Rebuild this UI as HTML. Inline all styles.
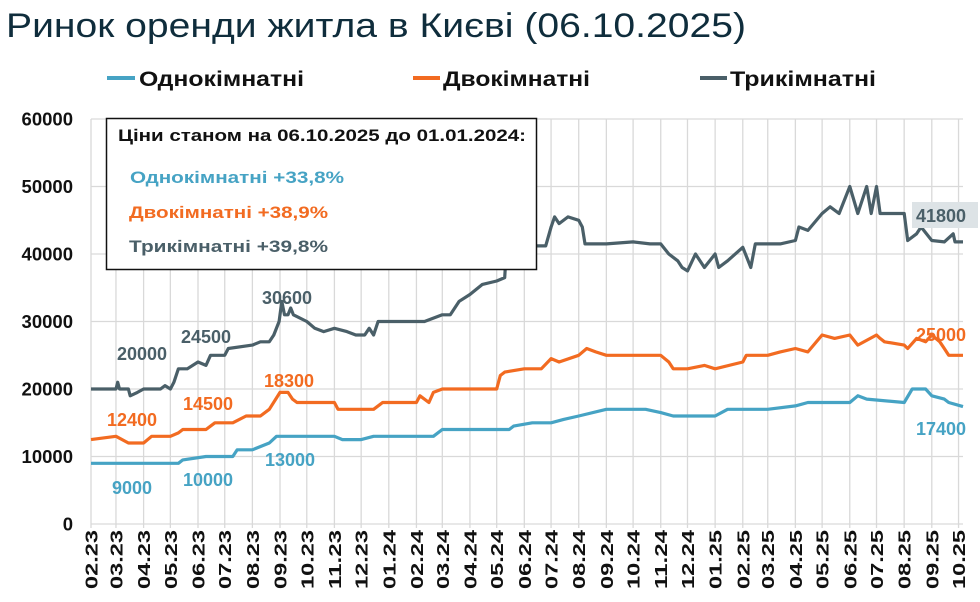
<!DOCTYPE html>
<html><head><meta charset="utf-8"><style>
html,body{margin:0;padding:0;background:#fff;}
svg{display:block;font-family:"Liberation Sans",sans-serif;}
</style></head><body>
<svg id="chart" width="980" height="602" viewBox="0 0 980 602">
<text x="6" y="37" font-size="34" fill="#0f2d3c" textLength="740" lengthAdjust="spacingAndGlyphs">Ринок оренди житла в Києві (06.10.2025)</text>
<g>
 <g><line x1="107" y1="78" x2="135" y2="78" stroke="#46a3c4" stroke-width="4"/><text x="139" y="86" font-size="21" font-weight="bold" fill="#111" textLength="165" lengthAdjust="spacingAndGlyphs">Однокімнатні</text></g>
 <g><line x1="413" y1="78" x2="440" y2="78" stroke="#f26b21" stroke-width="4"/><text x="443" y="86" font-size="21" font-weight="bold" fill="#111" textLength="147" lengthAdjust="spacingAndGlyphs">Двокімнатні</text></g>
 <g><line x1="700" y1="78" x2="727" y2="78" stroke="#4a5f68" stroke-width="4"/><text x="730" y="86" font-size="21" font-weight="bold" fill="#111" textLength="146" lengthAdjust="spacingAndGlyphs">Трикімнатні</text></g>
</g>
<g id="grid"></g>
<g id="yaxis"></g>
<g id="xaxis"></g>
<g id="series"></g>
<g>
 <rect x="106.5" y="118.5" width="430" height="151" fill="#fff" stroke="#111" stroke-width="1.5"/>
 <text x="118" y="141" font-size="16.5" font-weight="bold" fill="#111" textLength="408" lengthAdjust="spacingAndGlyphs">Ціни станом на 06.10.2025 до 01.01.2024:</text>
 <text x="130" y="183" font-size="17" font-weight="bold" fill="#46a3c4" textLength="214" lengthAdjust="spacingAndGlyphs">Однокімнатні +33,8%</text>
 <text x="129" y="218" font-size="17" font-weight="bold" fill="#f26b21" textLength="199" lengthAdjust="spacingAndGlyphs">Двокімнатні +38,9%</text>
 <text x="129" y="252" font-size="17" font-weight="bold" fill="#4a5f68" textLength="199" lengthAdjust="spacingAndGlyphs">Трикімнатні +39,8%</text>
</g>
<g id="labels"></g>
</svg>
<script>
const monthTicks=["02.23","03.23","04.23","05.23","06.23","07.23","08.23","09.23","10.23","11.23","12.23","01.24","02.24","03.24","04.24","05.24","06.24","07.24","08.24","09.24","10.24","11.24","12.24","01.25","02.25","03.25","04.25","05.25","06.25","07.25","08.25","09.25","10.25"];
const yTicks=[0,10000,20000,30000,40000,50000,60000];
const threeDates=["2023-02-01","2023-03-01","2023-03-03","2023-03-05","2023-03-15","2023-03-17","2023-03-25","2023-04-01","2023-04-20","2023-04-25","2023-05-01","2023-05-05","2023-05-10","2023-05-20","2023-06-01","2023-06-10","2023-06-15","2023-07-01","2023-07-05","2023-08-01","2023-08-10","2023-08-20","2023-08-25","2023-08-31","2023-09-03","2023-09-06","2023-09-10","2023-09-13","2023-09-16","2023-10-01","2023-10-10","2023-10-20","2023-11-01","2023-11-15","2023-11-25","2023-12-05","2023-12-10","2023-12-15","2023-12-20","2024-01-01","2024-02-10","2024-03-01","2024-03-10","2024-03-20","2024-04-01","2024-04-15","2024-05-01","2024-05-10","2024-05-12","2024-05-18","2024-05-20","2024-06-01","2024-06-25","2024-07-01","2024-07-05","2024-07-10","2024-07-20","2024-08-01","2024-08-05","2024-08-08","2024-09-01","2024-10-01","2024-10-20","2024-11-01","2024-11-10","2024-11-20","2024-11-25","2024-12-01","2024-12-10","2024-12-20","2025-01-01","2025-01-05","2025-01-15","2025-02-01","2025-02-10","2025-02-15","2025-03-01","2025-03-15","2025-04-01","2025-04-05","2025-04-15","2025-05-01","2025-05-10","2025-05-20","2025-06-01","2025-06-10","2025-06-20","2025-06-25","2025-07-01","2025-07-05","2025-08-01","2025-08-05","2025-08-15","2025-08-20","2025-09-01","2025-09-15","2025-09-25","2025-09-27","2025-10-06"];
const threeVals=[20000,20000,21000,20000,20000,19000,19500,20000,20000,20500,20000,21000,23000,23000,24000,23500,25000,25000,26000,26500,27000,27000,28000,30000,33000,31000,31000,32000,31000,30000,29000,28500,29000,28500,28000,28000,29000,28000,30000,30000,30000,31000,31000,33000,34000,35500,36000,36500,41000,42000,41500,41200,41200,44000,45500,44500,45500,45000,44000,41500,41500,41800,41500,41500,40000,39000,38000,37500,40000,38000,40000,38000,39000,41000,38000,41500,41500,41500,42000,44000,43500,46000,47000,46000,50000,46000,50000,46000,50000,46000,46000,42000,43000,44000,42000,41800,43000,41800,41800];
const twoDates=["2023-02-01","2023-03-01","2023-03-15","2023-04-01","2023-04-10","2023-05-01","2023-05-10","2023-05-15","2023-06-10","2023-06-20","2023-07-10","2023-07-25","2023-08-10","2023-08-20","2023-09-01","2023-09-10","2023-09-15","2023-09-20","2023-11-01","2023-11-05","2023-12-15","2023-12-25","2024-02-01","2024-02-05","2024-02-15","2024-02-20","2024-03-01","2024-05-01","2024-05-05","2024-05-10","2024-06-01","2024-06-20","2024-07-01","2024-07-10","2024-08-01","2024-08-10","2024-08-20","2024-09-01","2024-11-01","2024-11-10","2024-11-15","2024-12-01","2024-12-20","2025-01-01","2025-02-01","2025-02-05","2025-03-01","2025-03-15","2025-04-01","2025-04-15","2025-05-01","2025-05-15","2025-06-01","2025-06-10","2025-07-01","2025-07-05","2025-07-10","2025-08-01","2025-08-05","2025-08-15","2025-08-25","2025-09-01","2025-09-10","2025-09-15","2025-09-20","2025-10-06"];
const twoVals=[12500,13000,12000,12000,13000,13000,13500,14000,14000,15000,15000,16000,16000,17000,19500,19500,18500,18000,18000,17000,17000,18000,18000,19000,18000,19500,20000,20000,22000,22500,23000,23000,24500,24000,25000,26000,25500,25000,25000,24000,23000,23000,23500,23000,24000,25000,25000,25500,26000,25500,28000,27500,28000,26500,28000,27500,27000,26500,26000,27500,27000,28000,27000,26000,25000,25000];
const oneDates=["2023-02-01","2023-05-10","2023-05-15","2023-06-10","2023-07-10","2023-07-15","2023-08-01","2023-08-20","2023-08-28","2023-11-01","2023-11-10","2023-12-01","2023-12-15","2024-02-20","2024-03-01","2024-05-15","2024-05-20","2024-06-10","2024-07-01","2024-07-15","2024-08-01","2024-09-01","2024-10-15","2024-11-01","2024-11-15","2025-01-01","2025-01-15","2025-03-01","2025-04-01","2025-04-15","2025-06-01","2025-06-10","2025-06-20","2025-08-01","2025-08-10","2025-08-25","2025-09-01","2025-09-15","2025-09-20","2025-10-06"];
const oneVals=[9000,9000,9500,10000,10000,11000,11000,12000,13000,13000,12500,12500,13000,13000,14000,14000,14500,15000,15000,15500,16000,17000,17000,16500,16000,16000,17000,17000,17500,18000,18000,19000,18500,18000,20000,20000,19000,18500,18000,17400];
const labelTexts=["20000","24500","30600","12400","14500","18300","9000","10000","13000","41800","25000","17400"];

const NS="http://www.w3.org/2000/svg";
const X0=91,X1=963,Y0=524,Y1=119;
const D0=Date.UTC(2023,1,1),D1=Date.UTC(2025,9,6);
function xOfDate(s){const p=s.split("-");const t=Date.UTC(+p[0],+p[1]-1,+p[2]);return X0+(t-D0)/(D1-D0)*(X1-X0);}
function xOfTick(lbl){const m=+lbl.slice(0,2),y=2000+ +lbl.slice(3);return xOfDate(y+"-"+String(m).padStart(2,"0")+"-01");}
function yOf(v){return Y0-(v/60000)*(Y0-Y1);}
function mk(tag,attrs,parent){const e=document.createElementNS(NS,tag);for(const k in attrs)e.setAttribute(k,attrs[k]);parent.appendChild(e);return e;}
const grid=document.getElementById("grid"),ya=document.getElementById("yaxis"),xa=document.getElementById("xaxis"),ser=document.getElementById("series"),lab=document.getElementById("labels");
yTicks.forEach(v=>{
 const l=mk("line",{x1:X0,x2:X1,y1:yOf(v),y2:yOf(v),stroke:"#d9d9d9","stroke-width":1.3},grid);
 
 
 const t=mk("text",{x:73,y:yOf(v)+6.5,"text-anchor":"end","font-size":18.5,"font-weight":"bold",fill:"#111"},ya);
 t.textContent=v;
 
 
});
monthTicks.forEach(m=>{
 const x=xOfTick(m);
 const l=mk("line",{x1:x,x2:x,y1:Y1,y2:Y0+4,stroke:"#d9d9d9","stroke-width":1.3},grid);
 
 
 const t=mk("text",{x:0,y:0,"text-anchor":"end","font-size":17.5,"font-weight":"bold",fill:"#111",textLength:59,lengthAdjust:"spacingAndGlyphs",transform:`translate(${x+6.5},530) rotate(-90)`},xa);
 t.textContent=m;
 
 
});
function drawSeries(dates,vals,color,name){
 const d=dates.map((s,i)=>(i?"L":"M")+xOfDate(s).toFixed(1)+","+yOf(vals[i]).toFixed(1)).join("");
 const p=mk("path",{d:d,fill:"none",stroke:color,"stroke-width":3.2,"stroke-linejoin":"round"},ser);
 
 
}
drawSeries(oneDates,oneVals,"#46a3c4","one-room-line");
drawSeries(twoDates,twoVals,"#f26b21","two-room-line");
drawSeries(threeDates,threeVals,"#4a5f68","three-room-line");
const labelPos=[[117,360,"#4a5f68"],[181,343,"#4a5f68"],[262,304,"#4a5f68"],[107,426,"#f26b21"],[183,410,"#f26b21"],[264,387,"#f26b21"],[112,494,"#46a3c4"],[183,486,"#46a3c4"],[265,466,"#46a3c4"]];
labelPos.forEach((p,i)=>{
 const t=mk("text",{x:p[0],y:p[1],"font-size":18,"font-weight":"bold",fill:p[2]},lab);
 t.textContent=labelTexts[i];
 
 
});
const bg=mk("rect",{x:912,y:202,width:66,height:26,fill:"#dde3e6"},lab);


[[916,222,"#4a5f68",9],[916,341,"#f26b21",10],[916,435,"#46a3c4",11]].forEach(p=>{
 const t=mk("text",{x:p[0],y:p[1],"font-size":18,"font-weight":"bold",fill:p[2]},lab);
 t.textContent=labelTexts[p[3]];
 
 
});
</script>
</body></html>
